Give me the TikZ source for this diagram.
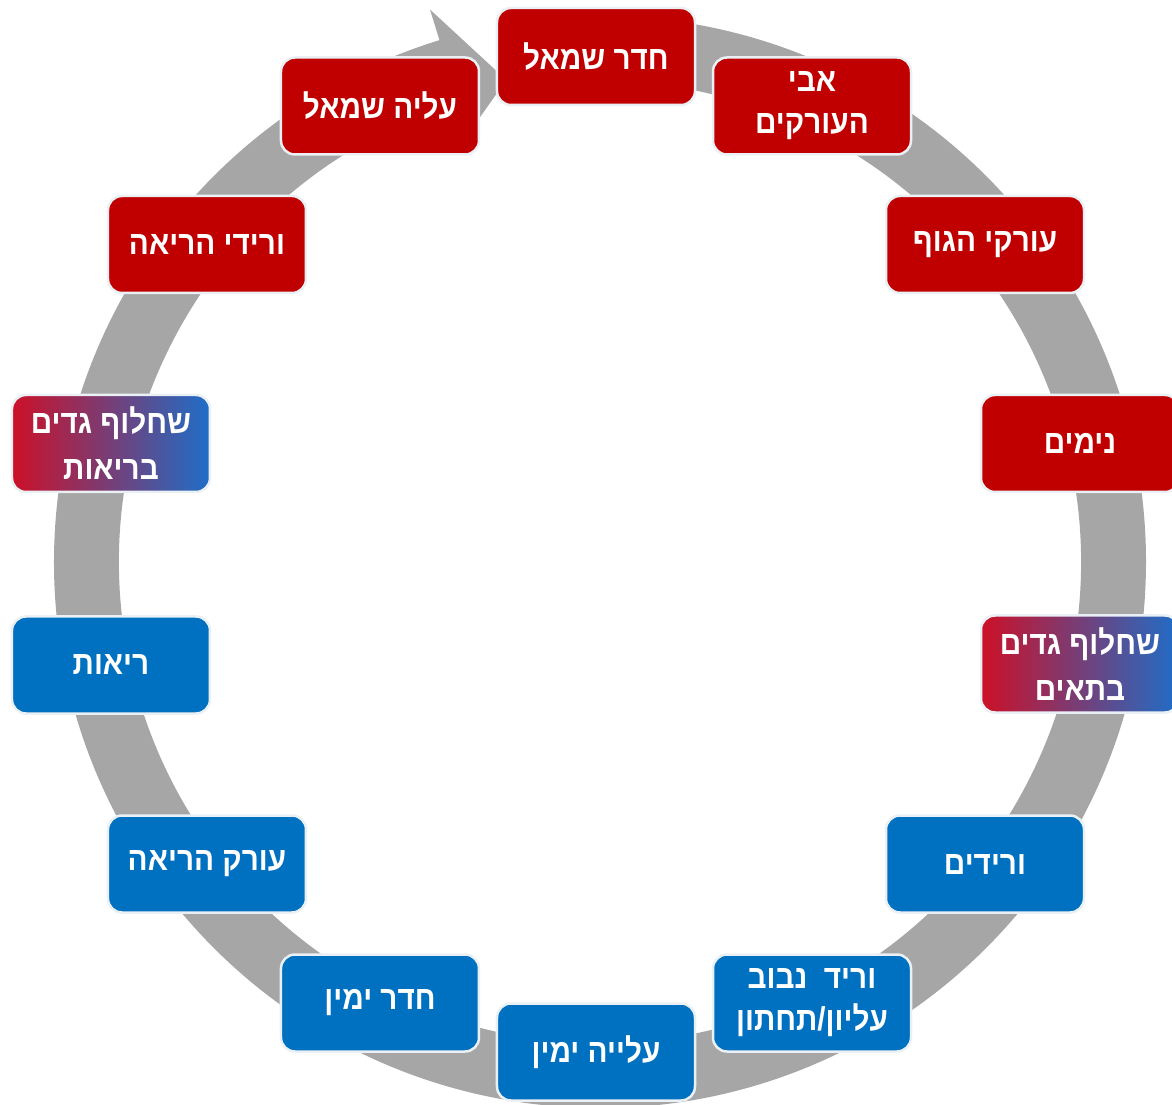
\documentclass[tikz,border=0pt]{standalone}
\usepackage{fontspec}
\newfontfamily\heb[Script=Hebrew,FakeStretch=0.9]{Liberation Sans}
\TeXXeTstate=1
\definecolor{boxred}{RGB}{192,0,0}
\definecolor{boxblue}{RGB}{0,112,192}
\definecolor{gradred}{RGB}{205,16,40}
\definecolor{gradblue}{RGB}{30,110,200}
\definecolor{ringgray}{RGB}{166,166,166}
\definecolor{boxedge}{RGB}{235,240,245}
\definecolor{midpurple}{RGB}{150,90,190}
\newcommand{\heR}[1]{\beginR #1\endR}
\begin{document}
\begin{tikzpicture}[x=1pt,y=1pt,
  stagebox/.style={rounded corners=14pt, minimum width=198pt, minimum height=97pt,
    inner sep=0pt, draw=boxedge, line width=2.5pt, text=white,
    font=\heb\bfseries\fontsize{33}{42}\selectfont, align=center},
  redbox/.style={stagebox, fill=boxred},
  bluebox/.style={stagebox, fill=boxblue},
  mixbox/.style={stagebox, font=\heb\bfseries\fontsize{33}{46}\selectfont,
    left color=gradred, middle color=midpurple, right color=gradblue}]
\useasboundingbox (-600,-543) rectangle (572,562);
% ring arrow
\fill[ringgray] (88:546) arc[start angle=88, end angle=-252.9, radius=546]
  -- (107.1:578) -- (101:491) -- (107.1:448) -- (107.1:481)
  arc[start angle=-252.9, end angle=88, radius=481] -- cycle;
% boxes
\node[redbox] (ls) at (-4,505.5) {\heR{חדר שמאל}};
\node[redbox] (ao) at (212,456) {\heR{אבי}\\\heR{העורקים}};
\node[redbox] (ar) at (385,317.5) {\heR{עורקי הגוף}};
\node[redbox] (ca) at (480,118.5) {\heR{נימים}};
\node[mixbox] (gc) at (480,-102) {\heR{שחלוף גדים}\\\heR{בתאים}};
\node[bluebox] (ve) at (385,-302) {\heR{ורידים}};
\node[bluebox] (vc) at (212,-441) {\heR{וריד\ \ נבוב}\\\heR{עליון/תחתון}};
\node[bluebox] (ra) at (-4,-490) {\heR{עלייה ימין}};
\node[bluebox] (rv) at (-220,-441) {\heR{חדר ימין}};
\node[bluebox] (pa) at (-393,-302) {\heR{עורק הריאה}};
\node[bluebox] (lu) at (-489,-103) {\heR{ריאות}};
\node[mixbox] (gl) at (-489,118.5) {\heR{שחלוף גדים}\\\heR{בריאות}};
\node[redbox] (pv) at (-393,317.5) {\heR{ורידי הריאה}};
\node[redbox] (la) at (-220,456) {\heR{עליה שמאל}};
\end{tikzpicture}
\end{document}
